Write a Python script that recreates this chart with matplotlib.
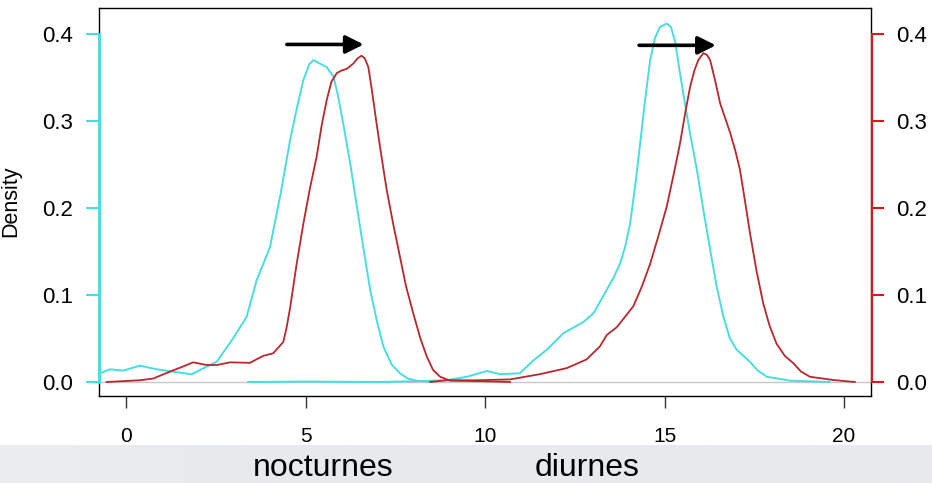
import numpy as np
import matplotlib
matplotlib.use("Agg")
import matplotlib.pyplot as plt
import matplotlib.transforms as mtransforms

plt.rcParams['font.family'] = ['Liberation Sans', 'DejaVu Sans']

# ---------------- data ----------------
cyan_noct_x = [-0.72, -0.45, -0.08, 0.39, 0.85, 1.31, 1.83, 2.15, 2.53, 2.99, 3.36, 3.64,
               4.01, 4.30, 4.57, 4.76, 4.94, 5.10, 5.22, 5.40, 5.59, 5.78, 5.90, 6.05, 6.25,
               6.43, 6.62, 6.80, 7.00, 7.17, 7.40, 7.63, 7.85, 8.10, 8.55]
cyan_noct_y = [0.010, 0.0146, 0.013, 0.0188, 0.0146, 0.0119, 0.0088, 0.0157, 0.0234, 0.0506, 0.075, 0.117,
               0.155, 0.215, 0.278, 0.315, 0.347, 0.365, 0.370, 0.366, 0.362, 0.351, 0.330, 0.297, 0.250,
               0.2015, 0.152, 0.106, 0.068, 0.0406, 0.020, 0.010, 0.004, 0.0015, 0.0]

cyan_diur_x = [3.40, 5.0, 7.0, 8.19, 8.93, 9.49, 10.05, 10.42, 10.97, 11.35, 11.72, 12.18, 12.74, 13.02,
               13.39, 13.58, 13.76, 13.90, 14.04, 14.18, 14.32, 14.46, 14.60, 14.73, 14.87, 15.06,
               15.18, 15.30, 15.41, 15.52, 15.70, 15.90, 16.08, 16.27, 16.45, 16.64, 16.82, 17.01,
               17.20, 17.38, 17.60, 17.85, 18.50, 19.60]
cyan_diur_y = [0.0, 0.0005, 0.0, 0.001, 0.002, 0.006, 0.0126, 0.009, 0.010, 0.025, 0.037, 0.056, 0.069, 0.079,
               0.106, 0.120, 0.136, 0.155, 0.182, 0.225, 0.274, 0.325, 0.370, 0.395, 0.408, 0.412,
               0.408, 0.390, 0.360, 0.332, 0.288, 0.244, 0.198, 0.152, 0.110, 0.075, 0.050, 0.037,
               0.030, 0.023, 0.013, 0.006, 0.0015, 0.0]

red_noct_x = [-0.54, -0.07, 0.39, 0.76, 1.23, 1.60, 1.87, 2.25, 2.53, 2.90, 3.45, 3.82, 4.10, 4.38,
              4.47, 4.57, 4.75, 4.94, 5.12, 5.31, 5.45, 5.59, 5.72, 5.87, 6.00, 6.15, 6.33, 6.45,
              6.56, 6.65, 6.75, 6.85, 6.98, 7.12, 7.26, 7.45, 7.63, 7.80, 8.00, 8.20, 8.38, 8.55,
              8.75, 9.03, 9.80, 10.70]
red_noct_y = [0.0, 0.001, 0.002, 0.004, 0.012, 0.018, 0.0226, 0.0195, 0.0195, 0.0226, 0.022, 0.030, 0.033, 0.046,
              0.062, 0.085, 0.135, 0.182, 0.222, 0.259, 0.295, 0.324, 0.345, 0.355, 0.358, 0.360, 0.366, 0.372,
              0.375, 0.372, 0.362, 0.335, 0.297, 0.258, 0.221, 0.180, 0.144, 0.110, 0.079, 0.050, 0.029, 0.014,
              0.006, 0.0015, 0.001, 0.0]

red_diur_x = [8.47, 8.93, 9.80, 10.70, 11.53, 12.28, 12.83, 13.20, 13.39, 13.67, 14.13, 14.37, 14.60,
              14.83, 15.06, 15.25, 15.43, 15.57, 15.71, 15.83, 15.94, 16.08, 16.18, 16.27, 16.40,
              16.55, 16.70, 16.83, 16.97, 17.10, 17.24, 17.38, 17.56, 17.75, 17.93, 18.12, 18.35,
              18.59, 18.80, 19.05, 19.70, 20.30]
red_diur_y = [0.0, 0.002, 0.002, 0.003, 0.009, 0.016, 0.026, 0.041, 0.054, 0.063, 0.087, 0.110, 0.136,
              0.168, 0.2015, 0.238, 0.274, 0.308, 0.339, 0.358, 0.370, 0.378, 0.376, 0.370, 0.348,
              0.320, 0.302, 0.286, 0.266, 0.244, 0.208, 0.171, 0.128, 0.090, 0.064, 0.044, 0.030,
              0.0215, 0.012, 0.006, 0.0023, 0.0]

x_ticks = [0, 5, 10, 15, 20]
y_ticks = [0.0, 0.1, 0.2, 0.3, 0.4]
y_ticklabels = ["0.0", "0.1", "0.2", "0.3", "0.4"]
arrows = [((4.48, 0.388), (6.62, 0.388)), ((14.29, 0.387), (16.43, 0.387))]
band_labels = ["nocturnes", "diurnes"]

CYAN = '#48dde0'
DRED = '#b8282c'
RED = '#e0141c'

# ---------------- figure ----------------
W, H = 932, 483
fig = plt.figure(figsize=(W / 100, H / 100), dpi=100)

# bottom grey band
band = fig.add_axes([0, 0, 1, 38 / H], zorder=0)
grad = np.ones((2, 400, 3))
t = np.clip(np.linspace(0, 1, 400) / 0.25, 0, 1)
c0 = np.array([236, 237, 238]) / 255
c1 = np.array([231, 234, 237]) / 255
grad[:] = (c0[None, :] * (1 - t[:, None]) + c1[None, :] * t[:, None])[None, :, :]
band.imshow(grad, aspect='auto', extent=[0, 1, 0, 1])
band.set_axis_off()

ax = fig.add_axes([99 / W, 1 - 396 / H, (871 - 99) / W, (396 - 8) / H], zorder=2)
ax.set_xlim(-0.752, 20.75)
ax.set_ylim(-0.0161, 0.4299)
for s in ax.spines.values():
    s.set_color('black')
    s.set_linewidth(1.0)

ax.axhline(0, color='#c8c8c8', lw=1.0, zorder=1)

ax.plot(cyan_noct_x, cyan_noct_y, color=CYAN, lw=1.4, zorder=3)
ax.plot(cyan_diur_x, cyan_diur_y, color=CYAN, lw=1.4, zorder=3)
ax.plot(red_noct_x, red_noct_y, color=DRED, lw=1.3, zorder=4)
ax.plot(red_diur_x, red_diur_y, color=DRED, lw=1.3, zorder=4)

for (x0, y0), (x1, y1) in arrows:
    ax.annotate('', xy=(x1, y1), xytext=(x0, y0),
                arrowprops=dict(arrowstyle='-|>,head_length=0.4,head_width=0.2',
                                mutation_scale=27, lw=2.6, color='black',
                                shrinkA=0, shrinkB=0), zorder=5)

# x axis
ax.set_xticks(x_ticks)
ax.set_xticklabels([str(v) for v in x_ticks])
ax.tick_params(axis='x', direction='out', length=8.6, width=1.0, color='#333333',
               pad=13.5, labelsize=15)

# left axis (cyan)
ax.set_yticks(y_ticks)
ax.set_yticklabels(y_ticklabels)
ax.tick_params(axis='y', direction='out', length=9.4, width=1.5, color=CYAN,
               pad=9.5, labelsize=16)
trl = mtransforms.blended_transform_factory(ax.transAxes, ax.transData)
ax.plot([0, 0], [0, 0.4], color=CYAN, lw=2.0, transform=trl, clip_on=False, zorder=6)

# right axis (red)
ax2 = ax.twinx()
ax2.set_ylim(ax.get_ylim())
ax2.set_yticks(y_ticks)
ax2.set_yticklabels(y_ticklabels)
ax2.tick_params(axis='y', direction='out', length=9.4, width=1.5, color=RED,
                pad=8.6, labelsize=16)
for s in ax2.spines.values():
    s.set_visible(False)
trr = mtransforms.blended_transform_factory(ax2.transAxes, ax2.transData)
ax2.plot([1.0015, 1.0015], [0, 0.4], color=RED, lw=1.5, transform=trr, clip_on=False, zorder=6)

# y label
fig.text(11 / W, 1 - 201 / H, 'Density', rotation=90, ha='center', va='center', fontsize=15.5)

# band labels
fig.text(323 / W, 7 / H, band_labels[0], ha='center', va='baseline', fontsize=23, zorder=5)
fig.text(587 / W, 7 / H, band_labels[1], ha='center', va='baseline', fontsize=23, zorder=5)

fig.savefig('out.png', dpi=100)
